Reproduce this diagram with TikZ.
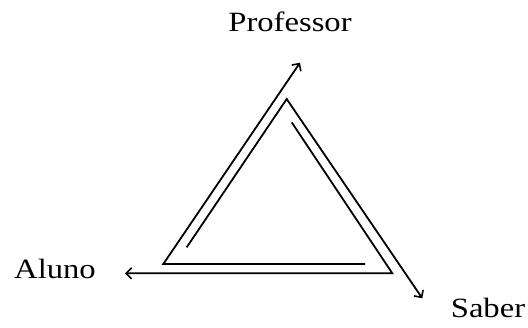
\documentclass[tikz,border=0pt]{standalone}
\usepackage{fontspec}
\setmainfont{Liberation Serif}
\usepackage{graphicx}
\usetikzlibrary{arrows.meta}
\tikzset{
  lbl/.style={anchor=base, inner sep=0pt, font=\fontsize{28}{30}\selectfont},
  edge/.style={line width=1.8bp, line join=miter},
  arr/.style={edge, -{Straight Barb[length=5.5bp,width=11bp,line width=1.6bp]}}
}
\begin{document}
\begin{tikzpicture}[x=1bp,y=-1bp]
\useasboundingbox (0,0) rectangle (528,327);
% corners
\coordinate (apex) at (286.7,99);
\coordinate (bl) at (163.3,264);
\coordinate (br) at (392.3,273.3);
% inner free ends
\coordinate (ia) at (186.7,247.3);
\coordinate (ib) at (291.7,122.3);
\coordinate (ic) at (365,264);
% arrow tips
\coordinate (tp) at (300,62.7);
\coordinate (ta) at (125,273.3);
\coordinate (ts) at (422.3,298.3);
% labels
\node[lbl] (prof) at (290,31) {\scalebox{1.17}[1]{Professor}};
\node[lbl] (aluno) at (55,278) {\scalebox{1.17}[1]{Aluno}};
\node[lbl] (saber) at (488,317) {\scalebox{1.17}[1]{Saber}};
% paths
\draw[arr] (ia) -- (apex) -- (ts);
\draw[arr] (ib) -- (br) -- (ta);
\draw[arr] (ic) -- (bl) -- (tp);
\end{tikzpicture}
\end{document}
